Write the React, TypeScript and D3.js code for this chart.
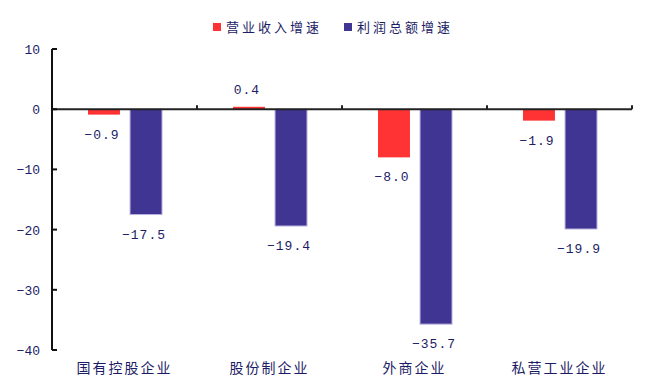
import React from "react";
import * as d3 from "d3";

const categories = ["国有控股企业", "股份制企业", "外商企业", "私营工业企业"];
const seriesNames = ["营业收入增速", "利润总额增速"];
const revenueGrowth = [-0.9, 0.4, -8.0, -1.9];
const profitGrowth = [-17.5, -19.4, -35.7, -19.9];
const yTicks = [10, 0, -10, -20, -30, -40];

const colors = ["#FF3333", "#413593"];
const textColor = "#1c1c66";

export default function App() {
  const W = 650, H = 390;
  const left = 52, right = 632, top = 49, bottom = 350;
  const y = d3.scaleLinear().domain([-40, 10]).range([bottom, top]);
  const x0 = d3.scaleBand<string>().domain(categories).range([left, right]).paddingInner(0).paddingOuter(0);
  const x1 = d3.scaleBand<string>().domain(seriesNames).range([36, 110]).paddingInner(0.24);
  const series = [revenueGrowth, profitGrowth];
  const labelFont = "'Liberation Mono', 'DejaVu Sans Mono', monospace";
  const cjkFont = "'Noto Sans CJK SC', sans-serif";
  const fmt = (v: number) => (v < 0 ? "−" : "") + Math.abs(v).toFixed(1);

  return (
    <svg width={W} height={H} style={{ position: "absolute", left: 0, top: 0, background: "#fff" }}>
      {/* legend */}
      {seriesNames.map((n, i) => {
        const lx = i === 0 ? 213 : 344;
        return (
          <g key={n}>
            <rect x={lx} y={23} width={8} height={8} fill={colors[i]} />
            <text x={lx + 13} y={32} fontSize={13} letterSpacing={3} fill={textColor} fontFamily={cjkFont}>{n}</text>
          </g>
        );
      })}
      {/* bars */}
      {categories.map((c, ci) => (
        <g key={c} transform={`translate(${x0(c)},0)`}>
          {series.map((s, si) => {
            const v = s[ci];
            const bx = x1(seriesNames[si])!;
            const bw = x1.bandwidth();
            const y0 = y(0), yv = y(v);
            return (
              <g key={si}>
                <rect x={bx} y={Math.min(y0, yv)} width={bw} height={Math.abs(yv - y0)}
                  fill={colors[si]} stroke={si === 1 ? "#b8b0dd" : "none"} strokeWidth={si === 1 ? 1 : 0} />
                <text x={bx + bw / 2 - 2} y={v < 0 ? yv + 24 : yv - 13} textAnchor="middle"
                  fontSize={13} letterSpacing={1} fill={textColor} fontFamily={labelFont}>
                  {fmt(v)}
                </text>
              </g>
            );
          })}
          <text x={x0.bandwidth() / 2} y={373} textAnchor="middle" fontSize={14} letterSpacing={2}
            fill={textColor} fontFamily={cjkFont}>{c}</text>
        </g>
      ))}
      {/* zero line */}
      <line x1={left} x2={right} y1={y(0)} y2={y(0)} stroke="#222" strokeWidth={2} />
      {categories.map((c, ci) => (
        <line key={"t" + ci} x1={x0(c)! + x0.bandwidth()} x2={x0(c)! + x0.bandwidth()} y1={y(0) - 4} y2={y(0)} stroke="#222" strokeWidth={2} />
      ))}
      {/* y axis */}
      <line x1={left} x2={left} y1={top} y2={bottom} stroke="#111" strokeWidth={2} />
      {yTicks.map((t) => (
        <g key={t}>
          <line x1={left} x2={left + 5} y1={y(t)} y2={y(t)} stroke="#111" strokeWidth={2} />
          <text x={40} y={y(t) + 5} textAnchor="end" fontSize={13} fill={textColor} fontFamily={labelFont} letterSpacing={0}>
            {t < 0 ? "−" + Math.abs(t) : t}
          </text>
        </g>
      ))}
    </svg>
  );
}
